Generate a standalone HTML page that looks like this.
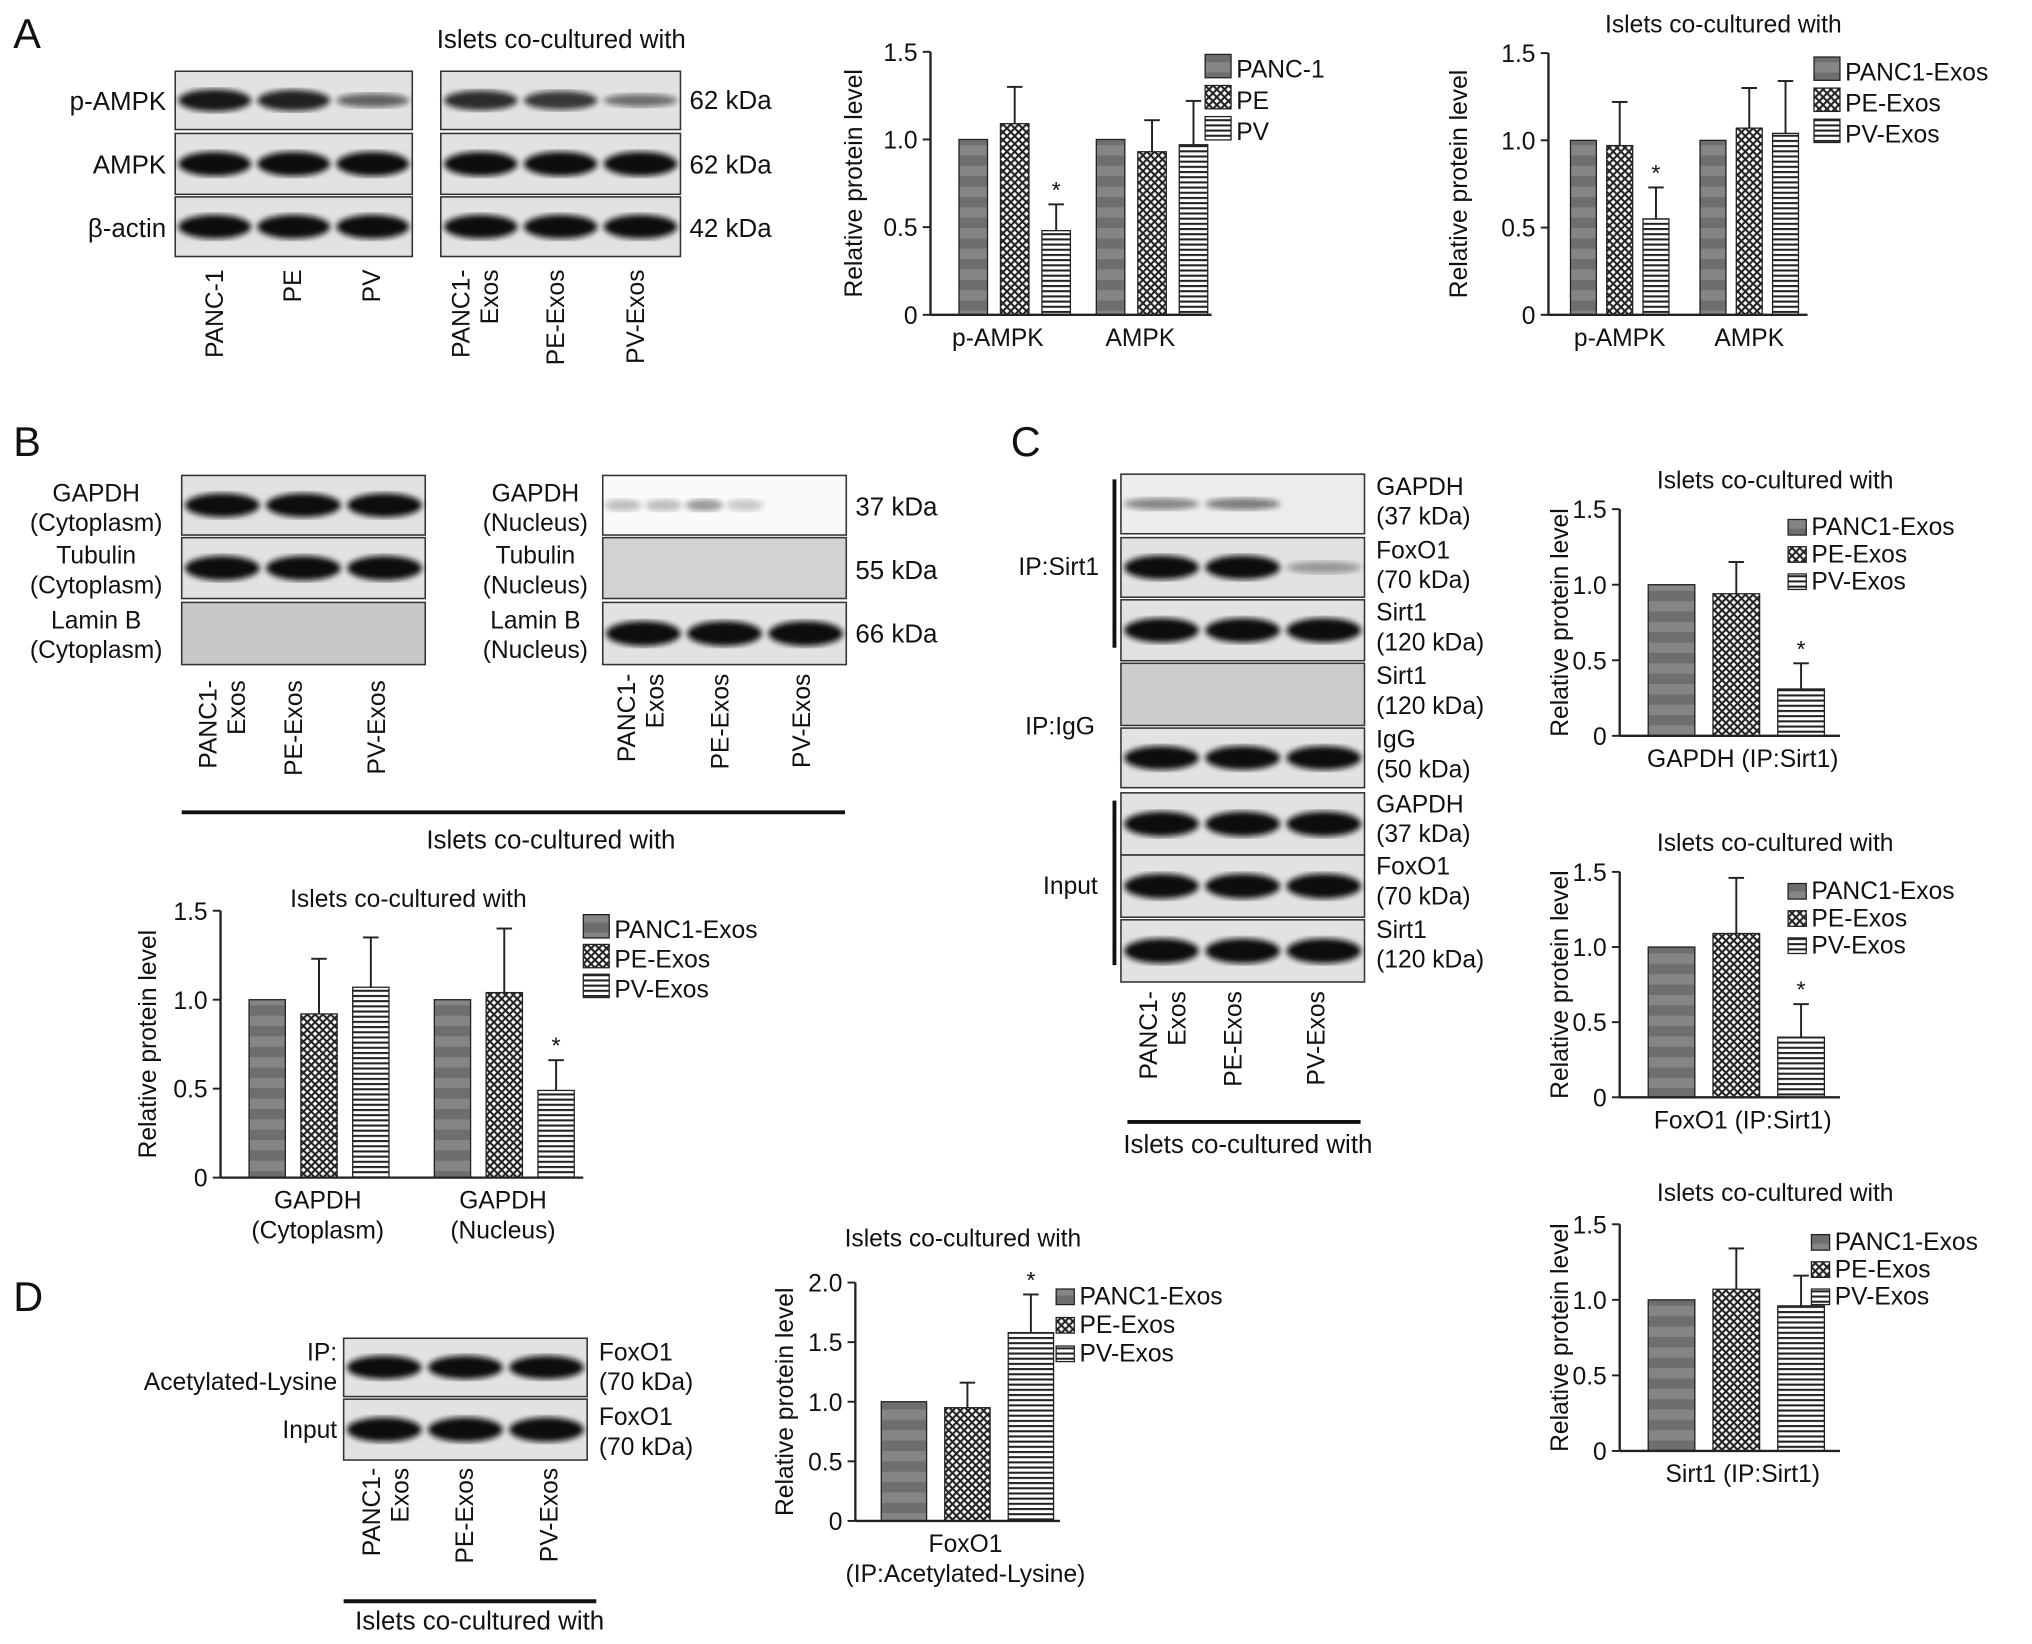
<!DOCTYPE html>
<html><head><meta charset="utf-8">
<style>
html,body{margin:0;padding:0;background:#fff;}
svg{display:block;font-family:"Liberation Sans",Arial,sans-serif;}
</style></head>
<body>
<svg id="fig" width="2032" height="1644" viewBox="0 0 1568 1269" xmlns="http://www.w3.org/2000/svg">
<defs>
<pattern id="p1" width="8" height="16" patternUnits="userSpaceOnUse"><rect width="8" height="16" fill="#6e6e6e"/><rect y="0" width="8" height="8" fill="#858585"/></pattern>
<pattern id="p2" width="6" height="6" patternUnits="userSpaceOnUse"><rect width="6" height="6" fill="#fff"/><path d="M0 0L6 6M6 0L0 6" stroke="#222" stroke-width="1.6"/></pattern>
<pattern id="p3" width="6" height="4" patternUnits="userSpaceOnUse"><rect width="6" height="4" fill="#fff"/><rect y="0" width="6" height="1.6" fill="#222"/></pattern>
<filter id="blur"><feGaussianBlur stdDeviation="2.2"/></filter>
</defs>
</svg>
<script>
// ---------- chart data ----------
const aCats=["p-AMPK","AMPK"];
const a1Vals=[[1.0,1.09,0.48],[1.0,0.93,0.97]];
const a1Err=[[0,0.21,0.15],[0,0.18,0.25]];
const a1Star=[[0,0,1],[0,0,0]];
const a1Legend=["PANC-1","PE","PV"];
const a2Vals=[[1.0,0.97,0.55],[1.0,1.07,1.04]];
const a2Err=[[0,0.25,0.18],[0,0.23,0.30]];
const a2Star=[[0,0,1],[0,0,0]];
const exoLegend=["PANC1-Exos","PE-Exos","PV-Exos"];
const bVals=[[1.0,0.92,1.07],[1.0,1.04,0.49]];
const bErr=[[0,0.31,0.28],[0,0.36,0.17]];
const bStar=[[0,0,0],[0,0,1]];
const c1Vals=[[1.0,0.94,0.31]];const c1Err=[[0,0.21,0.17]];const c1Star=[[0,0,1]];
const c2Vals=[[1.0,1.09,0.40]];const c2Err=[[0,0.37,0.22]];const c2Star=[[0,0,1]];
const c3Vals=[[1.0,1.07,0.96]];const c3Err=[[0,0.27,0.20]];const c3Star=[[0,0,0]];
const dVals=[[1.0,0.95,1.58]];const dErr=[[0,0.21,0.32]];const dStar=[[0,0,1]];
const ticks15=[0,0.5,1.0,1.5];
const ticks20=[0,0.5,1.0,1.5,2.0];

const NS="http://www.w3.org/2000/svg";
const svg=document.getElementById('fig');
function el(tag,attrs,parent){const e=document.createElementNS(NS,tag);for(const k in attrs)e.setAttribute(k,attrs[k]);(parent||svg).appendChild(e);return e;}
function txt(x,y,s,size,anchor,parent,rot){const t=el('text',{x:x,y:y,'font-size':size,'text-anchor':anchor||'start',fill:'#111'},parent);if(rot)t.setAttribute('transform','rotate('+rot+' '+x+' '+y+')');t.textContent=s;return t;}

function chart(name,cfg,vals,errs,stars,ticks,ymax,cats,legend){
  const g=el('g',{});
  
  
  const y=v=>cfg.y0-(v/ymax)*(cfg.y0-cfg.yTop);
  const fills=['url(#p1)','url(#p2)','url(#p3)'];
  vals.forEach((grp,gi)=>{
    grp.forEach((v,bi)=>{
      const x=cfg.gx[gi]+bi*(cfg.bw+cfg.gap);
      const r=el('rect',{x:x,y:y(v),width:cfg.bw,height:cfg.y0-y(v),fill:fills[bi],stroke:'#222','stroke-width':1},g);
      
      
      const e=errs[gi][bi];
      if(e>0){const cx=x+cfg.bw/2;
        el('line',{x1:cx,x2:cx,y1:y(v),y2:y(v+e),stroke:'#222','stroke-width':1.5},g);
        el('line',{x1:cx-6,x2:cx+6,y1:y(v+e),y2:y(v+e),stroke:'#222','stroke-width':1.5},g);}
      if(stars[gi][bi]){txt(x+cfg.bw/2,y(v+e)-5,'*',18,'middle',g);}
    });
  });
  el('line',{x1:cfg.ax,x2:cfg.ax,y1:cfg.yTop,y2:cfg.y0,stroke:'#222','stroke-width':1.8},g);
  el('line',{x1:cfg.ax,x2:cfg.axEnd,y1:cfg.y0,y2:cfg.y0,stroke:'#222','stroke-width':1.8},g);
  ticks.forEach(t=>{el('line',{x1:cfg.ax-6,x2:cfg.ax,y1:y(t),y2:y(t),stroke:'#222','stroke-width':1.5},g);
    txt(cfg.ax-10,y(t)+7,t===0?'0':t.toFixed(1),19,'end',g);});
  const yl=txt(cfg.ylx,(cfg.yTop+cfg.y0)/2,'Relative protein level',19,'middle',g,-90);
  
  cats.forEach((c,i)=>{const lines=cfg.catLabels?cfg.catLabels[i]:[c];
    lines.forEach((l,j)=>txt(cfg.catX[i],cfg.y0+24+j*23,l,19,'middle',g));});
  if(cfg.title){const t=txt(cfg.title[0],cfg.title[1],'Islets co-cultured with',19,'middle',g);}
  const ls=cfg.leg[3];
  legend.forEach((l,i)=>{const ly=cfg.leg[1]+i*cfg.leg[2];
    const s=el('rect',{x:cfg.leg[0],y:ly-ls+2,width:ls,height:ls-2,fill:fills[i],stroke:'#222'},g);
    
    const t=txt(cfg.leg[0]+ls+4,ly,l,19,'start',g);});
}

chart('chart-a1',{ax:718,axEnd:935,yTop:40,y0:243,gx:[740,846],bw:22,gap:10,ylx:665,catX:[770,880],leg:[930,60,24,20]},a1Vals,a1Err,a1Star,ticks15,1.5,aCats,a1Legend);
chart('chart-a2',{ax:1195,axEnd:1395,yTop:41,y0:243,gx:[1212,1312],bw:20,gap:8,ylx:1132,catX:[1250,1350],title:[1330,25],leg:[1400,62,24,20]},a2Vals,a2Err,a2Star,ticks15,1.5,aCats,exoLegend);
chart('chart-b',{ax:170,axEnd:450,yTop:703,y0:909,gx:[192,335],bw:28,gap:12,ylx:120,catX:[245,388],catLabels:[['GAPDH','(Cytoplasm)'],['GAPDH','(Nucleus)']],title:[315,700],leg:[450,724,23,20]},bVals,bErr,bStar,ticks15,1.5,['GAPDH-Cytoplasm','GAPDH-Nucleus'],exoLegend);
chart('chart-c1',{ax:1250,axEnd:1420,yTop:393,y0:568,gx:[1272],bw:36,gap:14,ylx:1210,catX:[1345],catLabels:[['GAPDH (IP:Sirt1)']],title:[1370,377],leg:[1380,413,21,14]},c1Vals,c1Err,c1Star,ticks15,1.5,['GAPDH'],exoLegend);
chart('chart-c2',{ax:1250,axEnd:1420,yTop:673,y0:847,gx:[1272],bw:36,gap:14,ylx:1210,catX:[1345],catLabels:[['FoxO1 (IP:Sirt1)']],title:[1370,657],leg:[1380,694,21,14]},c2Vals,c2Err,c2Star,ticks15,1.5,['FoxO1'],exoLegend);
chart('chart-c3',{ax:1250,axEnd:1420,yTop:945,y0:1120,gx:[1272],bw:36,gap:14,ylx:1210,catX:[1345],catLabels:[['Sirt1 (IP:Sirt1)']],title:[1370,927],leg:[1398,965,21,14]},c3Vals,c3Err,c3Star,ticks15,1.5,['Sirt1'],exoLegend);
chart('chart-d',{ax:660,axEnd:818,yTop:990,y0:1174,gx:[680],bw:35,gap:14,ylx:612,catX:[745],catLabels:[['FoxO1','(IP:Acetylated-Lysine)']],title:[743,962],leg:[815,1007,22,14]},dVals,dErr,dStar,ticks20,2.0,['FoxO1'],exoLegend);

// ---------- blots ----------
function blot(name,x,y,w,h,bands,bg){
  const g=el('g',{});
  
  
  el('rect',{x:x,y:y,width:w,height:h,fill:bg||'#e2e2e2',stroke:'#333','stroke-width':1.2},g);
  const n=bands.length;
  bands.forEach((b,i)=>{if(b<=0)return;
    const cx=x+w*(i+0.5)/n;
    el('ellipse',{cx:cx,cy:y+h/2,rx:w/n*0.46,ry:h*0.2*Math.max(0.5,b),fill:'#111',opacity:b,filter:'url(#blur)'},g);});
}
const full=[1,1,1];
blot('blot-a-pampk-1',135,55,183,45,[0.95,0.9,0.6]);
blot('blot-a-ampk-1',135,103,183,47,full);
blot('blot-a-actin-1',135,152,183,46,full);
blot('blot-a-pampk-2',340,55,185,45,[0.85,0.8,0.55]);
blot('blot-a-ampk-2',340,103,185,47,full);
blot('blot-a-actin-2',340,152,185,46,full);
blot('blot-b-gapdh-cyto',140,367,188,46,full);
blot('blot-b-tubulin-cyto',140,415,188,47,full);
blot('blot-b-laminb-cyto',140,465,188,48,[0,0,0],'#c8c8c8');
blot('blot-b-gapdh-nuc',465,367,188,46,[0.25,0.25,0.4,0.2,0,0],'#fafafa');
blot('blot-b-tubulin-nuc',465,415,188,47,[0,0,0],'#d2d2d2');
blot('blot-b-laminb-nuc',465,465,188,48,full);
blot('blot-c-gapdh-ip',865,366,188,46,[0.45,0.5,0],'#ececec');
blot('blot-c-foxo1-ip',865,415,188,46,[1,1,0.35]);
blot('blot-c-sirt1-ip',865,463,188,47,full);
blot('blot-c-sirt1-igg',865,512,188,48,[0,0,0],'#cccccc');
blot('blot-c-igg',865,562,188,46,full);
blot('blot-c-gapdh-in',865,612,188,48,full);
blot('blot-c-foxo1-in',865,660,188,48,full);
blot('blot-c-sirt1-in',865,710,188,48,full);
blot('blot-d-foxo1-ip',265,1033,188,45,full);
blot('blot-d-foxo1-in',265,1080,188,47,full);

// ---------- labels ----------
[['A',10,37],['B',10,352],['C',780,352],['D',10,1012]].forEach(p=>{const t=txt(p[1],p[2],p[0],32,'start');});
txt(433,37,'Islets co-cultured with',20,'middle');
txt(128,85,'p-AMPK',20,'end');txt(128,134,'AMPK',20,'end');txt(128,183,'β-actin',20,'end');
txt(532,84,'62 kDa',20);txt(532,134,'62 kDa',20);txt(532,183,'42 kDa',20);
function rot(x,y,lines){lines.forEach((l,i)=>txt(x+i*22,y,l,19,'end',null,-90));}
rot(172,208,['PANC-1']);rot(232,208,['PE']);rot(293,208,['PV']);
rot(362,208,['PANC1-','Exos']);rot(435,208,['PE-Exos']);rot(497,208,['PV-Exos']);
[['GAPDH','(Cytoplasm)',387],['Tubulin','(Cytoplasm)',435],['Lamin B','(Cytoplasm)',485]].forEach(a=>{txt(74,a[2],a[0],19,'middle');txt(74,a[2]+23,a[1],19,'middle');});
[['GAPDH','(Nucleus)',387],['Tubulin','(Nucleus)',435],['Lamin B','(Nucleus)',485]].forEach(a=>{txt(413,a[2],a[0],19,'middle');txt(413,a[2]+23,a[1],19,'middle');});
txt(660,398,'37 kDa',20);txt(660,447,'55 kDa',20);txt(660,496,'66 kDa',20);
rot(167,525,['PANC1-','Exos']);rot(233,525,['PE-Exos']);rot(297,525,['PV-Exos']);
rot(490,520,['PANC1-','Exos']);rot(562,520,['PE-Exos']);rot(625,520,['PV-Exos']);
el('line',{x1:140,x2:652,y1:627,y2:627,stroke:'#111','stroke-width':3});
txt(425,655,'Islets co-cultured with',20,'middle');
[['GAPDH','(37 kDa)',382],['FoxO1','(70 kDa)',431],['Sirt1','(120 kDa)',479],['Sirt1','(120 kDa)',528],['IgG','(50 kDa)',577],['GAPDH','(37 kDa)',627],['FoxO1','(70 kDa)',675],['Sirt1','(120 kDa)',724]].forEach(a=>{txt(1062,a[2],a[0],19);txt(1062,a[2]+23,a[1],19);});
txt(817,444,'IP:Sirt1',19,'middle');txt(818,567,'IP:IgG',19,'middle');txt(826,690,'Input',19,'middle');
el('line',{x1:860,x2:860,y1:370,y2:500,stroke:'#111','stroke-width':3});
el('line',{x1:860,x2:860,y1:618,y2:745,stroke:'#111','stroke-width':3});
rot(893,765,['PANC1-','Exos']);rot(958,765,['PE-Exos']);rot(1022,765,['PV-Exos']);
el('line',{x1:870,x2:1050,y1:866,y2:866,stroke:'#111','stroke-width':3});
txt(963,890,'Islets co-cultured with',20,'middle');
txt(260,1050,'IP:',19,'end');txt(260,1073,'Acetylated-Lysine',19,'end');txt(260,1110,'Input',19,'end');
txt(462,1050,'FoxO1',19);txt(462,1073,'(70 kDa)',19);txt(462,1100,'FoxO1',19);txt(462,1123,'(70 kDa)',19);
rot(293,1133,['PANC1-','Exos']);rot(365,1133,['PE-Exos']);rot(430,1133,['PV-Exos']);
el('line',{x1:265,x2:460,y1:1236,y2:1236,stroke:'#111','stroke-width':3});
txt(370,1258,'Islets co-cultured with',20,'middle');
</script>
</body></html>
